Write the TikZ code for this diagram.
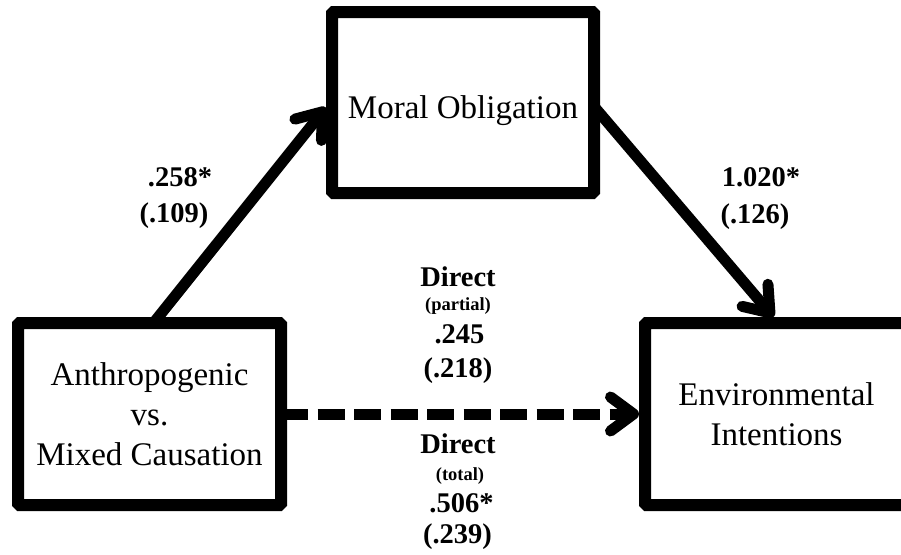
\documentclass[tikz,border=0pt]{standalone}
\usepackage{fontspec}
\setmainfont{Liberation Serif}
\usetikzlibrary{arrows.meta, positioning}

\tikzset {
  varbox/.style = {draw, line width=12pt, rectangle, rounded corners=1.5pt, fill=white, align=center, font=\fontsize{33}{40}\selectfont, minimum width=263pt, minimum height=182pt},
  effect/.style = {line width=11pt, -{Straight Barb[length=23pt, width=34pt, round]}},
  directeffect/.style = {effect, dash pattern=on 27pt off 9.5pt},
  coef/.style = {font=\bfseries\fontsize{28.5}{34}\selectfont, anchor=base, inner sep=0pt},
  note/.style = {font=\bfseries\fontsize{18.5}{20}\selectfont, anchor=base, inner sep=0pt}
}

\begin{document}
\begin{tikzpicture}[x=1pt, y=-1pt]
    \useasboundingbox (0,0) rectangle (901,554);

    % the three variables
    \node[varbox] (anthro) at (149.5,414) {Anthropogenic\\vs.\\Mixed Causation};
    \node[varbox, minimum width=262pt, minimum height=181pt, text height=31pt, text depth=0pt] (moral) at (463,102.5) {Moral Obligation};
    \node[varbox] (envint) at (776.5,414) {Environmental\\Intentions};

    % paths
    \draw[effect] ([xshift=4pt, yshift=-6pt]anthro.north) -- ([yshift=-5pt]moral.west);
    \draw[effect] ([xshift=-6pt, yshift=-4pt]moral.east) -- ([xshift=-3pt]envint.north);
    \draw[directeffect] ([xshift=-6pt]anthro.east) -- (envint.west);

    % coefficients
    \node[coef] (amest) at (180,186) {.258*};
    \node[coef] (amse) at (174,222) {(.109)};
    \node[coef] (meest) at (761,186) {1.020*};
    \node[coef] (mese) at (755,223) {(.126)};

    \node[coef] (dpart) at (458,286) {Direct};
    \node[note] (dpartnote) at (458,310) {(partial)};
    \node[coef] (dpartest) at (459.5,343) {.245};
    \node[coef] (dpartse) at (458,377) {(.218)};

    \node[coef] (dtot) at (458,453) {Direct};
    \node[note] (dtotnote) at (460,480) {(total)};
    \node[coef] (dtotest) at (461.5,512) {.506*};
    \node[coef] (dtotse) at (457.5,543) {(.239)};

\end{tikzpicture}
\end{document}
